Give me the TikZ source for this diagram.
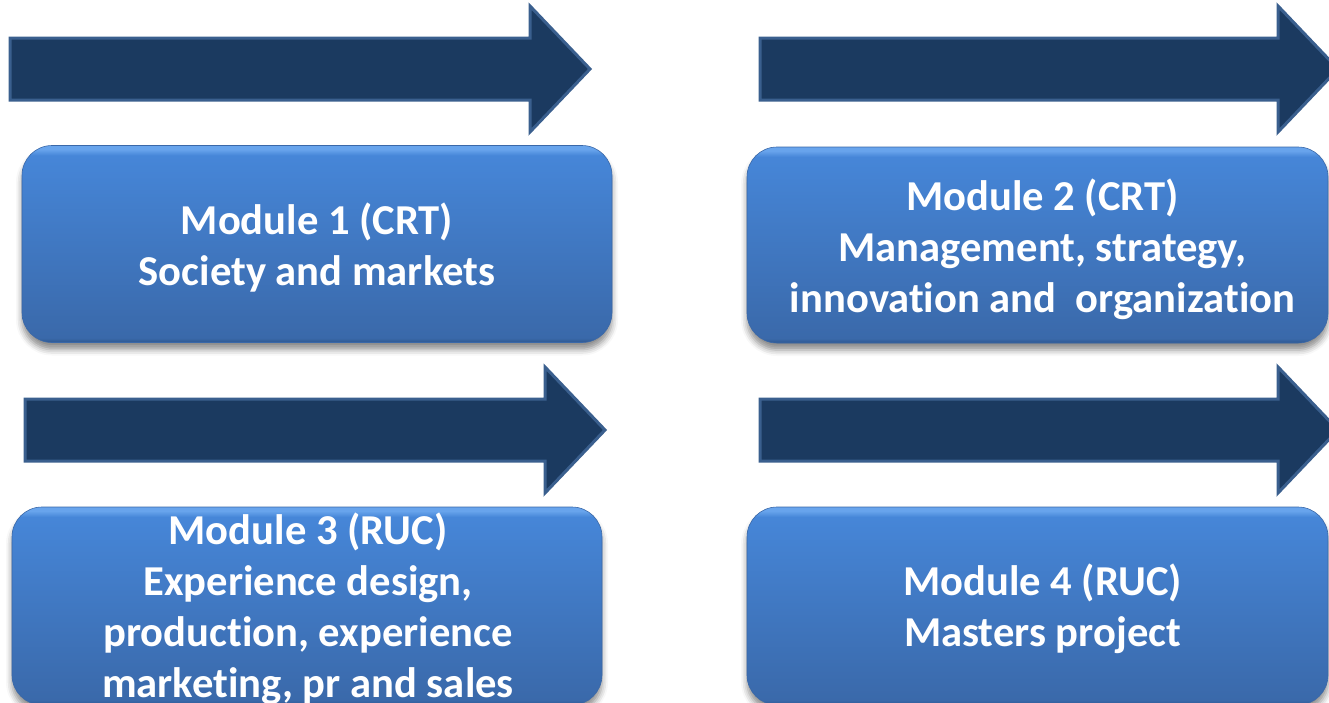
\documentclass[tikz,border=0pt]{standalone}
\usepackage{fontspec}
\setmainfont{Carlito}[Ligatures=NoCommon]
\usetikzlibrary{shadows.blur}

\definecolor{arrowfill}{HTML}{1B3A60}
\definecolor{arrowedge}{HTML}{3A5F8E}
\definecolor{boxtop}{HTML}{4686D8}
\definecolor{boxbot}{HTML}{3A69AA}
\definecolor{boxrim}{HTML}{68A4EC}
\definecolor{boxrimb}{HTML}{2E5890}
\definecolor{boxedge}{HTML}{3A68A8}

% module panel: thin light rim on top, dark rim at the bottom
\pgfdeclareverticalshading{modshade}{100bp}{%
  color(0bp)=(boxrimb); color(25bp)=(boxrimb); color(26.2bp)=(boxbot);
  color(72.5bp)=(boxtop); color(74bp)=(boxrim); color(75bp)=(boxrim);
  color(100bp)=(boxrim)}

\tikzset{
  modbox/.style={shape=rectangle, rounded corners=30pt,
    shading=modshade, draw=boxedge, line width=0.6pt, inner sep=0pt,
    blur shadow={shadow xshift=0pt, shadow yshift=-7pt,
      shadow blur radius=6pt, shadow opacity=45}},
  modtext/.style={text=white, align=center, inner sep=0pt,
    font=\bfseries\fontsize{42.6}{51}\selectfont},
  modarrow/.style={fill=arrowfill, draw=arrowedge, line width=3pt,
    line join=miter},
}

% block arrow: left end, centre line, head base, tip
\newcommand\blockarrow[4]{%
  \draw[modarrow] (#1,#2-31) -- (#3,#2-31) -- (#3,#2-63) -- (#4,#2)
    -- (#3,#2+63) -- (#3,#2+31) -- (#1,#2+31) -- cycle;}

\begin{document}
\begin{tikzpicture}[x=1pt, y=-1pt]
  \useasboundingbox (0,0) rectangle (1329,702);
  \clip (0,0) rectangle (1329,702);

  \blockarrow{10}{69}{530}{590}
  \blockarrow{760}{69}{1278}{1338}
  \blockarrow{25}{430}{545}{605}
  \blockarrow{760}{430}{1278}{1338}

  \node[modbox, minimum width=590pt, minimum height=197pt] (m1) at (317,244) {};
  \node[modbox, minimum width=581pt, minimum height=196pt] (m2) at (1037.5,245) {};
  \node[modbox, minimum width=590pt, minimum height=198pt] (m3) at (307,606) {};
  \node[modbox, minimum width=581pt, minimum height=198pt] (m4) at (1037.5,606) {};

  \node[modtext] (t1) at ([shift={(0,4)}]m1.center)
    {Module 1 (CRT)\\Society and markets};
  \node[modtext] (t2) at ([shift={(5,4)}]m2.center)
    {Module 2 (CRT)\\Management, strategy,\\innovation and\ \ organization};
  \node[modtext] (t3) at ([shift={(1,3)}]m3.center)
    {Module 3 (RUC)\\Experience design,\\production, experience\\marketing, pr and sales};
  \node[modtext] (t4) at ([shift={(5,3)}]m4.center)
    {Module 4 (RUC)\\Masters project};
\end{tikzpicture}
\end{document}
